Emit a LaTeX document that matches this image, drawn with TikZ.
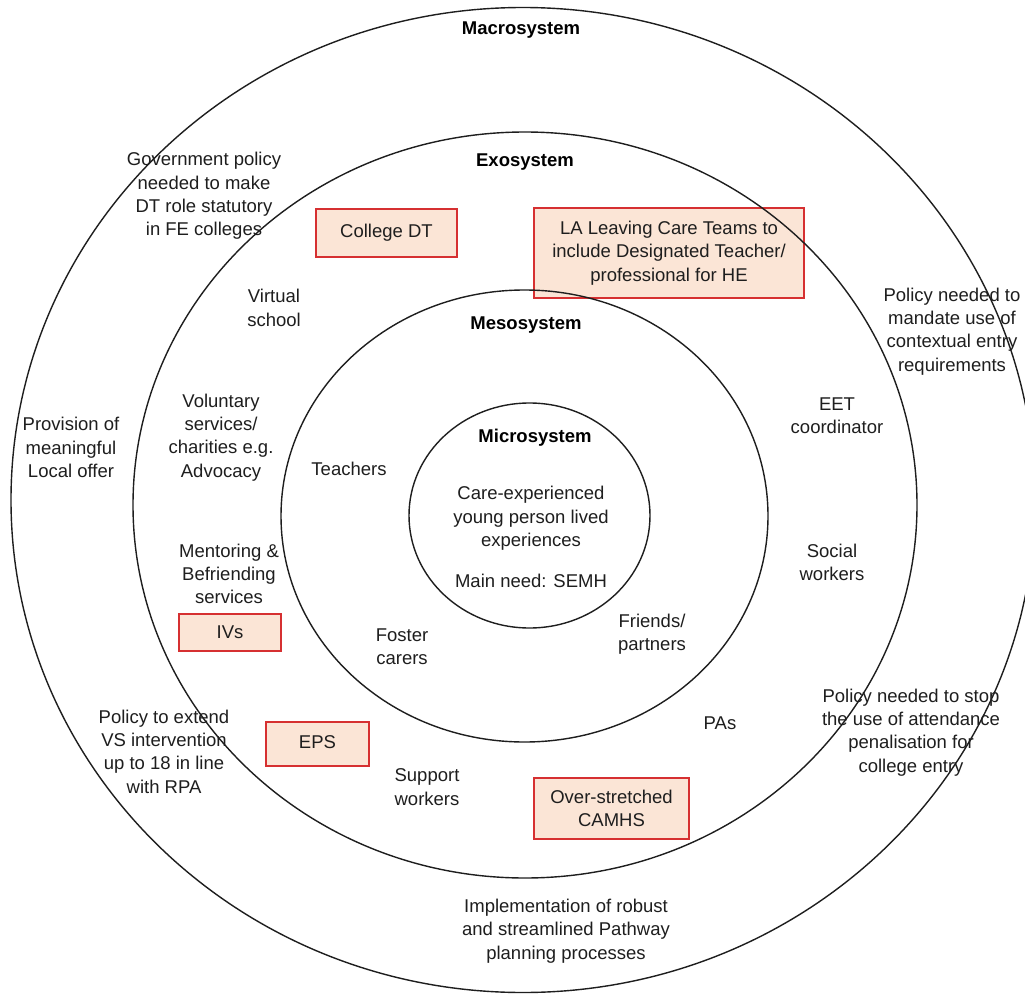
\documentclass[tikz,border=0pt]{standalone}
\usepackage{fontspec}
\setmainfont{Liberation Sans}
\definecolor{boxfill}{RGB}{251,229,214}
\definecolor{boxred}{RGB}{214,48,49}
\definecolor{ink}{RGB}{30,30,30}
\begin{document}
\begin{tikzpicture}[x=1pt,y=-1pt,
  ring/.style={draw=ink, line width=1.4pt},
  lbl/.style={align=center, inner sep=0pt, yshift=-2pt, text=ink, font=\fontsize{18.5}{23.3}\selectfont},
  ttl/.style={align=center, inner sep=0pt, yshift=-2pt, text=black, font=\bfseries\fontsize{18.5}{23.3}\selectfont},
  hbox/.style={draw=boxred, fill=boxfill, line width=1.3pt, align=center, inner sep=0pt, text=ink, font=\fontsize{18.5}{23.3}\selectfont}]
\useasboundingbox (0,0) rectangle (1025,995);
\clip (0,0) rectangle (1025,995);
\fill[white] (0,0) rectangle (1025,995);
% highlighted boxes
\node[hbox, minimum width=141pt, minimum height=48pt] (collegedt) at (386.5,233) {College DT\rule[-3pt]{0pt}{1pt}};
\node[hbox, minimum width=270pt, minimum height=90pt] (leaving) at (669,253) {LA Leaving Care Teams to\\include Designated Teacher/\\professional for HE};
\node[hbox, minimum width=102pt, minimum height=37pt] (ivs) at (230,632.5) {IVs};
\node[hbox, minimum width=103pt, minimum height=44pt] (eps) at (317.5,744) {EPS\rule[-3pt]{0pt}{1pt}};
\node[hbox, minimum width=155pt, minimum height=61pt] (camhs) at (611.5,808.5) {Over-stretched\\CAMHS};
% rings
\draw[ring] (523,500) ellipse [x radius=512pt, y radius=492.5pt];
\draw[ring] (525,505) ellipse [x radius=392pt, y radius=373pt];
\draw[ring] (524.5,516) ellipse [x radius=243.5pt, y radius=226pt];
\draw[ring] (529.5,515.5) ellipse [x radius=120.5pt, y radius=112.5pt];
% titles
\node[ttl] (macro) at (521,28) {Macrosystem};
\node[ttl] (exo) at (525,160) {Exosystem};
\node[ttl] (meso) at (526,323) {Mesosystem};
\node[ttl] (micro) at (535,436) {Microsystem};
% microsystem
\node[lbl] (young) at (531,516.5) {Care-experienced\\young person lived\\experiences};
\node[lbl] (need) at (531,579) {Main need: SEMH};
% mesosystem
\node[lbl] (teachers) at (349,467) {Teachers};
\node[lbl] (foster) at (402,644.5) {Foster\\carers};
\node[lbl] (friends) at (652,632.5) {Friends/\\partners};
% exosystem
\node[lbl] (virtual) at (274,306) {Virtual\\school};
\node[lbl] (voluntary) at (221,435.5) {Voluntary\\services/\\charities e.g.\\Advocacy};
\node[lbl] (mentoring) at (229,572) {Mentoring \&\\Befriending\\services};
\node[lbl] (eet) at (837,413.5) {EET\\coordinator};
\node[lbl] (social) at (832,560.5) {Social\\workers};
\node[lbl] (pas) at (720,721) {PAs};
\node[lbl] (support) at (427,785) {Support\\workers};
% macrosystem
\node[lbl] (govpolicy) at (204,194) {Government policy\\needed to make\\DT role statutory\\in FE colleges};
\node[lbl] (contextual) at (952,329.5) {Policy needed to\\mandate use of\\contextual entry\\requirements};
\node[lbl] (localoffer) at (71,445.5) {Provision of\\meaningful\\Local offer};
\node[lbl] (vspolicy) at (164,749.5) {Policy to extend\\VS intervention\\up to 18 in line\\with RPA};
\node[lbl] (attendance) at (911,730.5) {Policy needed to stop\\the use of attendance\\penalisation for\\college entry};
\node[lbl] (pathway) at (566,929) {Implementation of robust\\and streamlined Pathway\\planning processes};
\end{tikzpicture}
\end{document}
